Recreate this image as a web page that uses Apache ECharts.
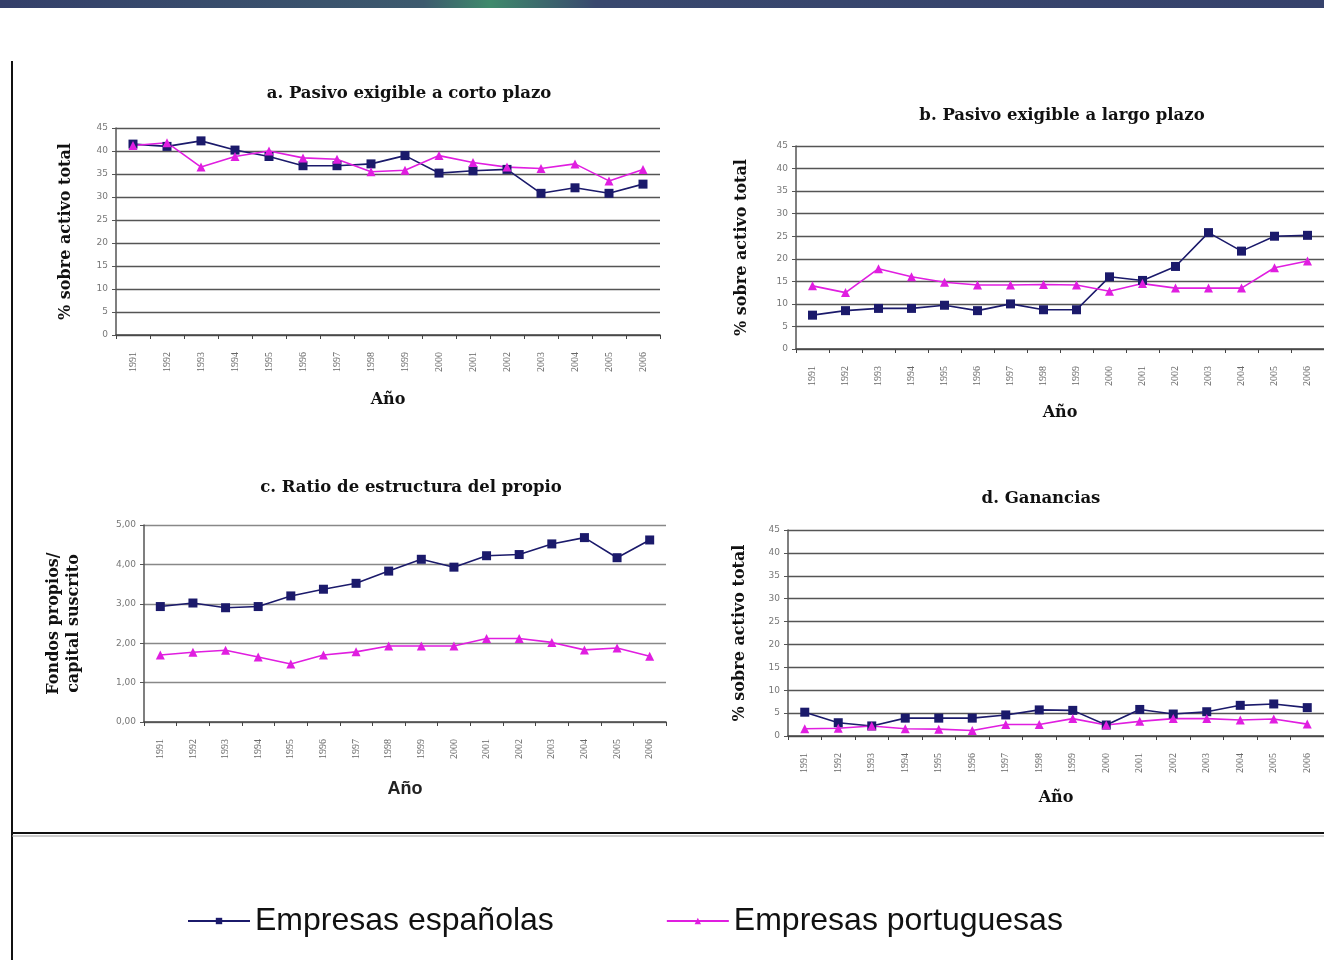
<!DOCTYPE html>
<html>
<head>
<meta charset="utf-8">
<script src="https://cdn.jsdelivr.net/npm/echarts@6/dist/echarts.min.js"></script>
<style>
  html, body { margin: 0; padding: 0; background: #fff; }
  #main { width: 1324px; height: 960px; }
</style>
</head>
<body>
<div id="main"></div>
<script>
// años
var years = ['1991', '1992', '1993', '1994', '1995', '1996', '1997', '1998',
  '1999', '2000', '2001', '2002', '2003', '2004', '2005', '2006'];

// a. Pasivo exigible a corto plazo
var cortoEsp = [41.5, 41, 42.2, 40.2, 38.8, 36.8, 36.8, 37.2, 39, 35.2, 35.7, 36, 30.8, 32, 30.8, 32.8];
var cortoPor = [41.2, 41.8, 36.5, 38.8, 40, 38.5, 38.2, 35.5, 35.8, 39, 37.5, 36.5, 36.2, 37.2, 33.5, 36];

// b. Pasivo exigible a largo plazo
var largoEsp = [7.5, 8.5, 9, 9, 9.7, 8.5, 10, 8.7, 8.7, 16, 15.2, 18.3, 25.8, 21.7, 25, 25.2];
var largoPor = [14, 12.5, 17.8, 16, 14.8, 14.2, 14.2, 14.3, 14.2, 12.8, 14.5, 13.5, 13.5, 13.5, 18, 19.5];

// c. Ratio de estructura del propio
var ratioEsp = [2.93, 3.02, 2.9, 2.93, 3.2, 3.37, 3.52, 3.83, 4.13, 3.93, 4.22, 4.25, 4.52, 4.68, 4.17, 4.62];
var ratioPor = [1.7, 1.77, 1.82, 1.65, 1.47, 1.7, 1.78, 1.93, 1.93, 1.93, 2.12, 2.12, 2.02, 1.83, 1.88, 1.67];

// d. Ganancias
var ganEsp = [5.2, 2.9, 2.2, 3.9, 3.9, 3.9, 4.6, 5.7, 5.6, 2.4, 5.8, 4.8, 5.3, 6.7, 7, 6.2];
var ganPor = [1.6, 1.7, 2.2, 1.6, 1.5, 1.2, 2.5, 2.5, 3.8, 2.4, 3.2, 3.8, 3.8, 3.5, 3.7, 2.6];

var pctTicks = [0, 45, 5];
var ratioTicks = [0, 5, 1];

var ESP = 'Empresas españolas';
var POR = 'Empresas portuguesas';
var navy = '#1b1a6b';
var magenta = '#e01ee0';
var serif = 'DejaVu Serif, Liberation Serif, serif';

var chart = echarts.init(document.getElementById('main'));

function title(text, x, y) {
  return {
    text: text, left: x, top: y, textAlign: 'center',
    textStyle: { fontFamily: serif, fontWeight: 'bold', fontSize: 16.5, color: '#111' }
  };
}

function xAx(i, gap, sans) {
  return {
    type: 'category', gridIndex: i, data: years, boundaryGap: true,
    name: 'Año', nameLocation: 'middle', nameGap: gap,
    nameTextStyle: sans
      ? { fontFamily: 'Liberation Sans, Arial, sans-serif', fontWeight: 'bold', fontSize: 18, color: '#222' }
      : { fontFamily: serif, fontWeight: 'bold', fontSize: 16, color: '#111' },
    axisLine: { lineStyle: { color: '#444', width: 1.5 } },
    axisTick: { show: true, length: 4, lineStyle: { color: '#444' } },
    axisLabel: { rotate: 90, fontSize: 10, fontFamily: 'Liberation Serif, serif', color: '#666', margin: 17 }
  };
}

function yAx(i, ticks, name, gap, gridColor, fmt) {
  return {
    type: 'value', gridIndex: i, min: ticks[0], max: ticks[1], interval: ticks[2],
    name: name, nameLocation: 'middle', nameGap: gap,
    nameTextStyle: { fontFamily: serif, fontWeight: 'bold', fontSize: 16, color: '#111', lineHeight: 20 },
    axisLine: { show: true, lineStyle: { color: '#555', width: 1.5 } },
    axisTick: { show: true, length: 4, lineStyle: { color: '#555' } },
    axisLabel: { fontSize: 9, fontFamily: 'DejaVu Sans, sans-serif', color: '#777', margin: 8, formatter: fmt },
    splitLine: { show: true, lineStyle: { color: gridColor, width: 1.3 } }
  };
}

function ser(name, data, i) {
  var esp = name === ESP;
  return {
    name: name, type: 'line', xAxisIndex: i, yAxisIndex: i, data: data,
    symbol: esp ? 'rect' : 'triangle', symbolSize: 9,
    itemStyle: { color: esp ? navy : magenta },
    lineStyle: { color: esp ? navy : magenta, width: 1.6 },
    animation: false
  };
}

var option = {
  backgroundColor: '#fff',
  animation: false,
  title: [
    title('a. Pasivo exigible a corto plazo', 404, 80),
    title('b. Pasivo exigible a largo plazo', 1057, 102),
    title('c. Ratio de estructura del propio', 406, 474),
    title('d. Ganancias', 1036, 485)
  ],
  legend: {
    data: [ESP, POR], left: 182, top: 900, itemWidth: 62, itemHeight: 8, itemGap: 112,
    textStyle: { fontFamily: 'Liberation Sans, Arial, sans-serif', fontSize: 32, color: '#111' }
  },
  grid: [
    { left: 116, top: 128, width: 544, height: 207 },
    { left: 796, top: 146, width: 540, height: 203 },
    { left: 144, top: 525, width: 522, height: 197 },
    { left: 788, top: 530, width: 548, height: 206 }
  ],
  xAxis: [xAx(0, 57), xAx(1, 56), xAx(2, 58, true), xAx(3, 54)],
  yAxis: [
    yAx(0, pctTicks, '% sobre activo total', 40, '#555'),
    yAx(1, pctTicks, '% sobre activo total', 44, '#555'),
    yAx(2, ratioTicks, 'Fondos propios/\ncapital suscrito', 60, '#888', function (v) { return v.toFixed(2).replace('.', ','); }),
    yAx(3, pctTicks, '% sobre activo total', 38, '#555')
  ],
  series: [
    ser(ESP, cortoEsp, 0), ser(POR, cortoPor, 0),
    ser(ESP, largoEsp, 1), ser(POR, largoPor, 1),
    ser(ESP, ratioEsp, 2), ser(POR, ratioPor, 2),
    ser(ESP, ganEsp, 3), ser(POR, ganPor, 3)
  ],
  graphic: [
    {
      type: 'rect', shape: { x: 0, y: 0, width: 1324, height: 8 },
      style: {
        fill: new echarts.graphic.LinearGradient(0, 0, 1, 0, [
          { offset: 0, color: '#343f6a' }, { offset: 0.32, color: '#3d5a6e' },
          { offset: 0.37, color: '#3f8a6c' }, { offset: 0.45, color: '#39486e' },
          { offset: 1, color: '#36426c' }
        ])
      }
    },
    { type: 'line', shape: { x1: 12, y1: 61, x2: 12, y2: 960 }, style: { stroke: '#111', lineWidth: 2 } },
    { type: 'line', shape: { x1: 12, y1: 833, x2: 1324, y2: 833 }, style: { stroke: '#111', lineWidth: 2 } },
    { type: 'line', shape: { x1: 12, y1: 836, x2: 1324, y2: 836 }, style: { stroke: '#999', lineWidth: 1 } }
  ]
};

chart.setOption(option);
</script>
</body>
</html>
